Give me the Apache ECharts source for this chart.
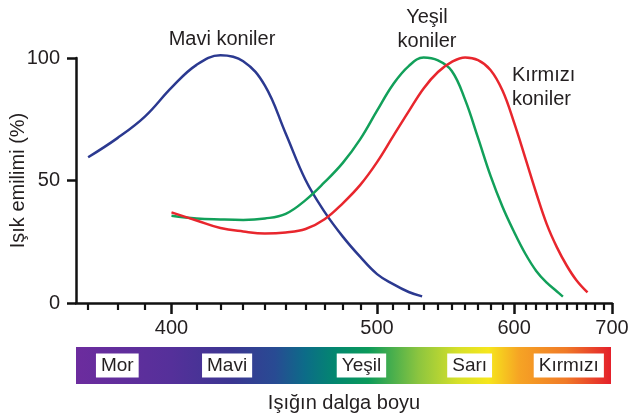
<!DOCTYPE html>
<html><head><meta charset="utf-8">
<script src="https://cdn.jsdelivr.net/npm/echarts@6/dist/echarts.min.js"></script>
<style>html,body{margin:0;padding:0;background:#fff}#c{width:629px;height:417px}</style>
</head><body><div id="c"></div>
<script>
// ---- data (wavelength in nm, absorption in %) ----
const blueWave  = [370, 380, 390, 400, 410, 420, 430, 440, 450, 460, 470, 480, 490, 500, 510, 520, 529];
const blueVal   = [59.5, 67.3, 76.2, 87.9, 97.2, 101.1, 98.7, 88.7, 69.2, 50.2, 37.2, 27.1, 18.8, 11.8, 7.7, 4.5, 2.7];
const greenWave = [400, 410, 420, 430, 440, 450, 460, 470, 480, 490, 500, 510, 520, 530, 540, 550, 560, 570, 580, 590, 600, 610, 620, 630, 640, 646];
const greenVal  = [35.6, 34.5, 34.1, 33.9, 34.5, 36.4, 42.0, 49.3, 57.2, 66.9, 78.5, 89.3, 96.7, 100.2, 99.0, 94.7, 82.9, 67.4, 52.0, 39.3, 29.0, 20.1, 13.1, 8.3, 4.7, 2.6];
const redWave   = [400, 410, 420, 430, 440, 450, 460, 470, 480, 490, 500, 510, 520, 530, 540, 550, 560, 570, 580, 590, 600, 610, 620, 630, 640, 650, 660, 672];
const redVal    = [37.0, 33.7, 30.6, 29.2, 28.4, 28.8, 30.2, 34.2, 40.7, 48.2, 57.5, 68.1, 78.2, 87.6, 94.3, 98.4, 100.2, 99.1, 95.1, 86.7, 73.6, 59.1, 44.9, 32.2, 22.7, 15.2, 9.3, 4.3];

const majorTicks = [400, 500, 600, 700];
const minorTicks = [370, 380, 390, 410, 420, 430, 440, 450, 460, 470, 480, 490, 510, 520, 530, 540, 550, 560, 570, 580, 590, 610, 620, 630, 640, 650, 660, 670, 680, 690];
const yTicks = [0, 50, 100];
const waveMin = 366, waveMax = 700;

const bandNames = ['Mor', 'Mavi', 'Yeşil', 'Sarı', 'Kırmızı'];
const bandWave  = [380, 423, 491, 564, 653];

const specWave  = [366, 400, 425, 445, 460, 476, 495, 527, 555, 579, 605, 650, 700];
const specColor = ['#6c2c9e', '#55309a', '#3b3692', '#284b93', '#0c6c88', '#03876f', '#0b9a5a', '#8cc53f', '#d6e02a', '#f6e61c', '#f6a424', '#f07a28', '#e4202b'];

const curveNames = ['Mavi koniler', 'Yeşil\nkoniler', 'Kırmızı\nkoniler'];

// ---- scale: linear in 1/wavelength (frequency) ----
const U = w => -10000 / w;
const pairs = (ws, vs) => ws.map((w, i) => [U(w), vs[i]]);
const uMin = U(waveMin), uMax = U(waveMax);

const FONT = 'Liberation Sans, Arial, sans-serif';
const TXT = '#231f20';

const stops = specWave.map((w, i) => ({ offset: (U(w) - uMin) / (uMax - uMin), color: specColor[i] }));

const chart = echarts.init(document.getElementById('c'));
chart.setOption({
  animation: false,
  textStyle: { fontFamily: FONT },
  grid: [
    { left: 76, right: 17, top: 58, bottom: 114, containLabel: false, outerBoundsMode: 'none' },
    { left: 76, right: 18, top: 347, height: 37, containLabel: false, outerBoundsMode: 'none' }
  ],
  xAxis: [
    { type: 'value', gridIndex: 0, min: uMin, max: uMax,
      splitLine: { show: false },
      axisLine: { show: true, onZero: false, lineStyle: { color: '#111', width: 2.5 } },
      axisTick: { show: true, length: 11, lineStyle: { color: '#111', width: 2.5 }, customValues: majorTicks.map(U) },
      axisLabel: { show: true, margin: 15, fontSize: 20, color: TXT, fontFamily: FONT,
        customValues: majorTicks.map(U), formatter: v => String(Math.round(-10000 / v)) },
      name: 'Işığın dalga boyu', nameLocation: 'middle', nameGap: 90, nameMoveOverlap: false,
      nameTextStyle: { fontSize: 20, color: TXT, fontFamily: FONT }
    },
    { type: 'value', gridIndex: 0, min: uMin, max: uMax, position: 'bottom',
      splitLine: { show: false },
      axisLine: { show: false, onZero: false },
      axisTick: { show: true, length: 7, lineStyle: { color: '#111', width: 2.2 }, customValues: minorTicks.map(U) },
      axisLabel: { show: false, customValues: minorTicks.map(U) }
    },
    { type: 'value', gridIndex: 1, min: uMin, max: uMax, show: false }
  ],
  yAxis: [
    { type: 'value', gridIndex: 0, min: 0, max: 100, interval: 50,
      splitLine: { show: false },
      axisLine: { show: true, onZero: false, lineStyle: { color: '#111', width: 2.5 } },
      axisTick: { show: true, length: 9, lineStyle: { color: '#111', width: 2.5 } },
      axisLabel: { margin: 16, fontSize: 20, color: TXT, fontFamily: FONT, customValues: yTicks },
      name: 'Işık emilimi (%)', nameLocation: 'middle', nameGap: 48, nameRotate: 90, nameMoveOverlap: false,
      nameTextStyle: { fontSize: 20, color: TXT, fontFamily: FONT }
    },
    { type: 'value', gridIndex: 1, min: 0, max: 1, show: false }
  ],
  series: [
    { type: 'line', name: 'blue', data: pairs(blueWave, blueVal), smooth: 0.4, symbol: 'none',
      lineStyle: { color: '#2b3990', width: 2.5 }, clip: false },
    { type: 'line', name: 'green', data: pairs(greenWave, greenVal), smooth: 0.4, symbol: 'none',
      lineStyle: { color: '#12a05a', width: 2.5 }, clip: false },
    { type: 'line', name: 'red', data: pairs(redWave, redVal), smooth: 0.4, symbol: 'none',
      lineStyle: { color: '#e8262d', width: 2.5 }, clip: false },
    { type: 'custom', xAxisIndex: 2, yAxisIndex: 1, data: [[uMin, uMax]],
      renderItem: (params, api) => {
        const p0 = api.coord([api.value(0), 1]);
        const p1 = api.coord([api.value(1), 0]);
        return { type: 'rect', shape: { x: p0[0], y: p0[1], width: p1[0] - p0[0], height: p1[1] - p0[1] },
          style: { fill: new echarts.graphic.LinearGradient(0, 0, 1, 0, stops) } };
      }
    },
    { type: 'scatter', xAxisIndex: 2, yAxisIndex: 1, symbolSize: 0, z: 5,
      itemStyle: { opacity: 1 },
      data: bandNames.map((n, i) => ({ value: [U(bandWave[i]), 0.5], name: n })),
      label: { show: true, position: 'inside', formatter: p => p.name, fontSize: 19, color: TXT, opacity: 1,
        fontFamily: FONT, backgroundColor: '#ffffff', padding: [3, 5, 2, 5] }
    }
  ],
  graphic: [
    { type: 'text', x: 222, y: 29, style: { text: curveNames[0], font: '20px ' + FONT, fill: TXT, align: 'center' } },
    { type: 'text', x: 427, y: 5, style: { text: curveNames[1], font: '20px ' + FONT, fill: TXT, align: 'center', lineHeight: 24 } },
    { type: 'text', x: 512, y: 63, style: { text: curveNames[2], font: '20px ' + FONT, fill: TXT, lineHeight: 24 } }
  ]
});
</script></body></html>
